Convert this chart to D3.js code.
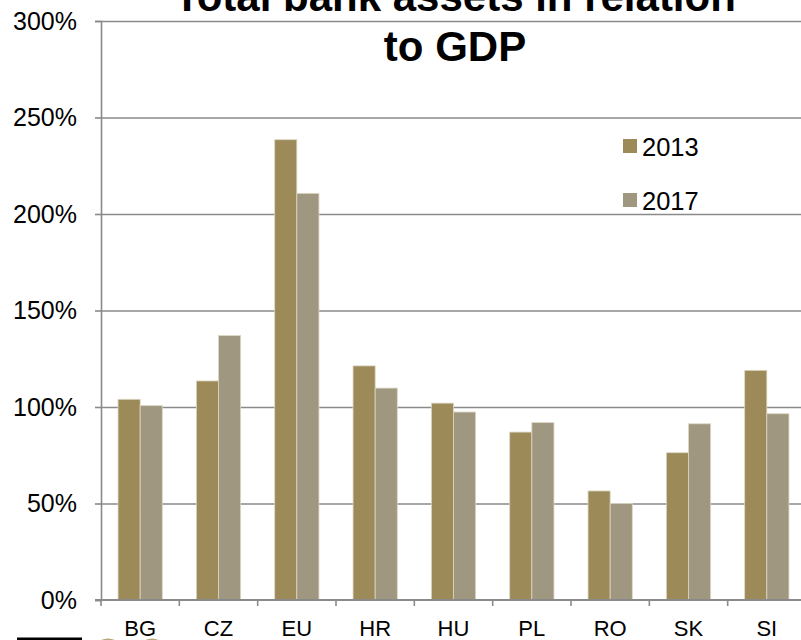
<!DOCTYPE html>
<html>
<head>
<meta charset="utf-8">
<script src="https://cdn.jsdelivr.net/npm/d3@7"></script>
<style>
  html, body { margin: 0; padding: 0; background: #fff; }
  svg { display: block; font-family: "Liberation Sans", Arial, sans-serif; }
</style>
</head>
<body>
<svg id="chart" width="801" height="640"></svg>
<script>
const categories = ["BG", "CZ", "EU", "HR", "HU", "PL", "RO", "SK", "SI"];
const seriesNames = ["2013", "2017"];
const values2013 = [104, 113.5, 238.5, 121.3, 102, 87, 56.5, 76.3, 119];
const values2017 = [100.7, 137, 210.7, 109.8, 97.4, 91.9, 50, 91.3, 96.5];
const yTicks = [0, 50, 100, 150, 200, 250, 300];
const titleLines = ["Total bank assets in relation", "to GDP"];

const colors = { "2013": "#9c8a59", "2017": "#a09780" };
const seriesValues = { "2013": values2013, "2017": values2017 };

const svg = d3.select("#chart");
const plotLeft = 101, plotRight = 806, plotTop = 21, plotBottom = 600;

const x0 = d3.scaleBand().domain(categories).range([plotLeft, plotRight])
  .paddingInner(0.435).paddingOuter(0.2175);
const x1 = d3.scaleBand().domain(seriesNames).range([0, x0.bandwidth()]);
const y = d3.scaleLinear().domain([0, 300]).range([plotBottom, plotTop]);

// gridlines
const grid = svg.append("g").attr("transform", `translate(${plotLeft},0)`)
  .call(d3.axisLeft(y).tickValues(yTicks.filter(t => t > 0)).tickSize(-(plotRight - plotLeft)).tickFormat(""));
grid.select(".domain").remove();
grid.selectAll("line").attr("stroke", "#8a8a8a").attr("stroke-width", 1.6);

// bars
const groups = svg.append("g").selectAll("g").data(categories).join("g")
  .attr("transform", d => `translate(${x0(d)},0)`);
groups.selectAll("rect")
  .data((c, i) => seriesNames.map(s => ({ s, v: seriesValues[s][i] })))
  .join("rect")
  .attr("x", d => x1(d.s))
  .attr("y", d => y(d.v))
  .attr("width", x1.bandwidth())
  .attr("height", d => plotBottom - y(d.v))
  .attr("fill", d => colors[d.s])
  .attr("stroke", "#ddd6c3")
  .attr("stroke-width", 0.8);

// y axis
const yAxis = svg.append("g").attr("transform", `translate(${plotLeft},0)`)
  .call(d3.axisLeft(y).tickValues(yTicks).tickSize(6).tickPadding(18).tickFormat(d => d + "%"));
yAxis.select(".domain").attr("stroke", "#8a8a8a").attr("stroke-width", 1.6);
yAxis.selectAll("line").attr("stroke", "#8a8a8a").attr("stroke-width", 1.6);
yAxis.selectAll("text").attr("font-size", 25).attr("fill", "#000")
  .attr("font-family", "Liberation Sans, Arial, sans-serif");

// x axis
const xStep = x0.step();
const xAxis = svg.append("g").attr("transform", `translate(0,${plotBottom})`);
xAxis.append("line").attr("x1", plotLeft - 6).attr("x2", 801).attr("y1", 0).attr("y2", 0)
  .attr("stroke", "#8a8a8a").attr("stroke-width", 1.8);
xAxis.selectAll("line.tick").data(d3.range(categories.length + 1)).join("line")
  .attr("class", "tick")
  .attr("x1", i => x0(categories[0]) - x0.paddingOuter() * xStep + i * xStep)
  .attr("x2", i => x0(categories[0]) - x0.paddingOuter() * xStep + i * xStep)
  .attr("y1", 0).attr("y2", 6)
  .attr("stroke", "#8a8a8a").attr("stroke-width", 1.6);
xAxis.selectAll("text").data(categories).join("text")
  .attr("x", d => x0(d) + x0.bandwidth() / 2)
  .attr("y", 36)
  .attr("text-anchor", "middle")
  .attr("font-size", 22)
  .attr("fill", "#000")
  .text(d => d);

// title
const title = svg.append("text").attr("text-anchor", "middle")
  .attr("font-weight", "bold").attr("font-size", 42).attr("fill", "#000");
titleLines.forEach((t, i) => {
  title.append("tspan").attr("x", 455).attr("y", 11 + i * 50).text(t);
});

// legend
const legend = svg.append("g");
seriesNames.forEach((s, i) => {
  const ly = 139 + i * 54;
  legend.append("rect").attr("x", 623).attr("y", ly).attr("width", 14).attr("height", 14)
    .attr("fill", colors[s]);
  legend.append("text").attr("x", 642).attr("y", ly + 16.5).attr("font-size", 25.5)
    .attr("fill", "#000").text(s);
});

// logo fragments at bottom edge
svg.append("rect").attr("x", 17).attr("y", 637.5).attr("width", 65).attr("height", 3).attr("fill", "#000");
svg.append("circle").attr("cx", 108).attr("cy", 654).attr("r", 14)
  .attr("fill", "none").attr("stroke", "#b3a878").attr("stroke-width", 3);
svg.append("circle").attr("cx", 152).attr("cy", 654).attr("r", 14)
  .attr("fill", "none").attr("stroke", "#b3a878").attr("stroke-width", 3);
</script>
</body>
</html>
